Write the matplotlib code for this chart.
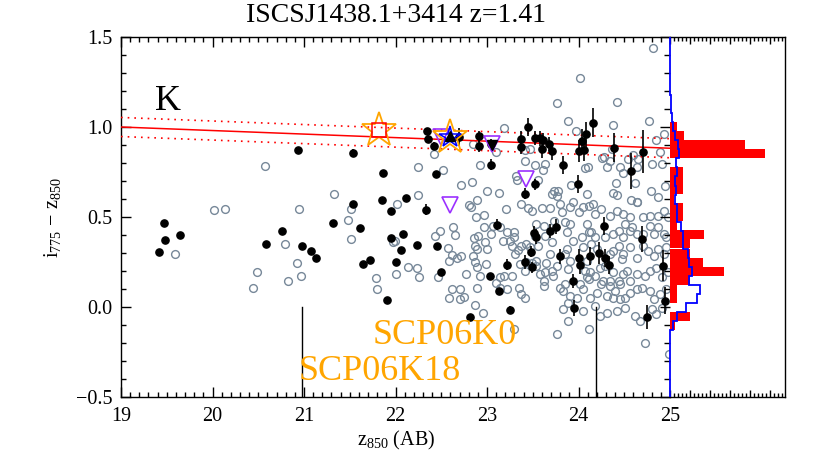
import numpy as np
import matplotlib
matplotlib.use('Agg')
import matplotlib.pyplot as plt
from matplotlib.ticker import MultipleLocator, NullFormatter

plt.rcParams['font.family'] = ['Liberation Serif', 'DejaVu Serif']
plt.rcParams['mathtext.fontset'] = 'custom'
plt.rcParams['mathtext.rm'] = 'Liberation Serif'
plt.rcParams['mathtext.it'] = 'Liberation Serif:italic'
plt.rcParams['mathtext.bf'] = 'Liberation Serif:bold'

# ---------------- data ----------------
title = "ISCSJ1438.1+3414 z=1.41"

gray_pts = [
    (20.57,0.785),(20.02,0.537),(20.14,0.547),(20.94,0.545),(21.33,0.630),(21.51,0.545),(21.48,0.486),
    (21.51,0.376),(22.02,0.575),(22.25,0.779),(22.25,0.625),(19.59,0.296),(20.79,0.350),(20.49,0.194),
    (20.44,0.106),(20.92,0.243),(20.97,0.175),(20.83,0.145),(21.79,0.162),(21.80,0.099),(21.97,0.363),
    (21.99,0.368),(22.01,0.184),(22.14,0.225),(22.23,0.216),(22.26,0.169),
    (22.42,0.848),(22.52,0.762),(22.92,0.787),(22.85,0.907),(23.10,0.861),(23.19,0.997),(23.47,0.880),
    (23.52,0.787),(23.42,0.870),(23.42,0.810),(22.72,0.675),(22.84,0.693),(23.00,0.642),(23.13,0.632),
    (23.32,0.725),(23.33,0.703),(22.89,0.597),(22.80,0.567),(22.83,0.554),(23.21,0.545),(23.37,0.573),
    (23.45,0.549),
    (24.81,1.437),(24.02,1.270),(23.77,1.134),(24.42,1.140),(23.89,1.032),(24.77,1.033),(23.97,0.976),
    (24.38,1.010),(24.37,0.880),(24.26,0.828),(24.34,0.809),(24.60,0.846),(24.65,0.824),(24.45,0.777),
    (24.54,0.820),(24.85,0.926),(24.89,0.861),(24.80,0.792),(24.91,0.792),(24.49,0.744),(24.64,0.777),
    (24.62,0.688),(24.41,0.688),(24.38,0.634),(24.42,0.625),(24.79,0.643),(24.87,0.610),(24.95,0.673),
    (24.57,0.595),(24.64,0.582),(23.92,0.675),(24.07,0.772),(24.10,0.777),(24.09,0.629),(23.63,0.796),
    (23.61,0.759),(23.56,0.703),(23.73,0.643),(23.78,0.647),(23.76,0.614),(23.94,0.582),(23.71,0.629),
    (24.31,0.777),(24.28,0.833),(24.93,0.959),
    (22.88,0.498),(22.97,0.512),(22.63,0.443),(22.65,0.400),(22.49,0.420),(22.43,0.396),(22.86,0.383),
    (22.87,0.341),(22.89,0.322),(23.00,0.322),(22.97,0.443),(23.04,0.406),(23.07,0.452),(23.17,0.365),
    (23.25,0.368),(23.29,0.415),(23.30,0.387),(23.34,0.316),(23.37,0.341),(23.43,0.350),(22.57,0.328),
    (22.62,0.290),(22.67,0.275),(22.72,0.285),(22.58,0.257),(22.85,0.285),(22.87,0.248),(22.89,0.220),
    (22.99,0.238),(22.92,0.173),(22.46,0.164),(22.77,0.186),(22.89,0.104),(22.62,0.099),(22.59,0.049),
    (22.71,0.044),(22.75,0.053),(22.87,0.012),(23.10,0.136),(23.14,0.164),(23.19,0.173),(23.14,0.108),
    (23.22,0.099),(23.35,0.104),(23.37,0.074),(23.42,0.049),(23.30,-0.124),(23.27,0.173),(22.96,-0.031),
    (22.70,0.099),(22.90,0.396),(23.14,0.443),(23.22,0.415),(22.98,0.359),(23.27,0.340),(23.31,0.294),
    (23.36,0.238),(23.41,0.201),(23.43,0.248),
    (23.49,0.535),(23.60,0.550),(23.69,0.550),(23.80,0.572),(23.82,0.526),(23.91,0.554),(24.00,0.526),
    (24.05,0.554),(24.11,0.563),(24.16,0.572),(24.18,0.517),(24.25,0.545),(24.34,0.507),(24.42,0.535),
    (24.49,0.517),(24.56,0.498),(24.64,0.582),(24.71,0.498),(24.78,0.507),(24.87,0.507),(24.93,0.535),
    (24.98,0.498),
    (23.54,0.461),(23.62,0.452),(23.53,0.396),(23.63,0.396),(23.73,0.480),(23.85,0.470),(23.91,0.461),
    (23.87,0.414),(24.09,0.461),(24.11,0.414),(24.14,0.414),(24.18,0.387),(24.29,0.387),(24.38,0.405),
    (24.44,0.424),(24.51,0.461),(24.56,0.424),(24.58,0.442),(24.64,0.405),(24.78,0.452),(24.82,0.405),
    (24.87,0.442),(24.93,0.405),(24.96,0.387),(24.49,0.387),(24.71,0.405),(24.04,0.387),(23.94,0.368),
    (23.47,0.331),(23.56,0.340),(23.69,0.294),(23.65,0.247),(23.71,0.359),(23.85,0.294),(23.87,0.322),
    (24.05,0.331),(24.14,0.349),(24.20,0.322),(24.38,0.312),(24.44,0.340),(24.49,0.294),(24.56,0.331),
    (24.64,0.275),(24.71,0.340),(24.76,0.312),(24.82,0.284),(24.87,0.322),(24.93,0.294),(24.96,0.331),
    (24.34,0.294),(24.47,0.266),(24.09,0.257),(23.91,0.257),
    (23.49,0.247),(23.54,0.229),(23.58,0.182),(23.63,0.192),(23.62,0.145),(23.71,0.201),(23.76,0.229),
    (23.89,0.210),(24.07,0.201),(24.09,0.164),(24.13,0.192),(24.18,0.173),(24.24,0.219),(24.29,0.229),
    (24.38,0.192),(24.44,0.145),(24.49,0.182),(24.53,0.201),(24.56,0.145),(24.64,0.182),(24.73,0.173),
    (24.78,0.201),(24.85,0.219),(24.91,0.164),(24.98,0.192),(24.11,0.154),(24.27,0.145),(24.34,0.145),
    (23.80,0.108),(23.83,0.089),(23.85,0.126),(24.02,0.126),(24.05,0.099),(24.20,0.080),(24.25,0.126),
    (24.34,0.117),(24.40,0.089),(24.45,0.126),(24.51,0.052),(24.56,0.080),(24.64,0.099),(24.69,0.108),
    (24.78,0.089),(24.82,0.043),(24.89,0.071),(24.96,0.099),(23.98,0.052),(24.13,0.052),(24.31,0.061),
    (24.38,0.052),(24.45,0.043),
    (23.83,-0.013),(23.89,-0.078),(24.05,-0.022),(24.18,0.006),(24.24,-0.050),(24.31,-0.031),(24.42,-0.022),
    (24.51,-0.004),(24.62,-0.050),(24.67,-0.078),(24.80,-0.013),(24.85,-0.041),(24.91,-0.004),(24.11,-0.124),
    (23.76,-0.152),(24.73,-0.199),(24.99,-0.260),
    (23.54,0.257),(23.72,0.173),(23.91,0.062),(23.89,0.025),(23.62,0.118),
]
gray_x = [p[0] for p in gray_pts]
gray_y = [p[1] for p in gray_pts]

# red-sequence candidates: (mag, colour, error)
black_pts = [
    (19.42,0.307,0.0),(19.47,0.467,0.0),(19.48,0.374,0.0),(19.65,0.402,0.0),(20.59,0.350,0.0),
    (20.76,0.424,0.0),(20.93,0.874,0.0),(20.98,0.337,0.0),(21.08,0.309,0.0),(21.13,0.272,0.0),
    (21.32,0.467,0.0),(21.54,0.855,0.02),(21.54,0.575,0.0),(21.61,0.437,0.0),(21.64,0.239,0.0),
    (21.72,0.261,0.0),(21.85,0.595,0.0),(21.86,0.747,0.0),(21.91,0.038,0.0),(21.95,0.534,0.0),
    (21.95,0.381,0.0),(22.01,0.251,0.0),(22.06,0.318,0.0),(22.08,0.404,0.0),(22.12,0.608,0.0),
    (22.23,0.344,0.0),(22.33,0.540,0.03),(22.34,0.976,0.02),(22.36,0.935,0.02),(22.42,0.894,0.02),
    (22.44,0.738,0.0),(22.45,0.341,0.0),(22.50,0.192,0.0),(22.69,0.944,0.05),(22.81,-0.053,0.0),
    (22.91,0.948,0.03),(22.91,0.892,0.03),(23.03,0.173,0.0),(23.04,0.904,0.03),(23.04,0.790,0.03),
    (23.11,0.458,0.03),(23.13,0.090,0.0),(23.22,0.235,0.03),(23.25,-0.016,0.02),(23.37,0.935,0.04),
    (23.37,0.888,0.04),(23.41,0.251,0.04),(23.42,0.629,0.03),(23.45,1.000,0.05),(23.48,0.307,0.03),
    (23.49,0.220,0.03),(23.51,0.410,0.04),(23.52,0.939,0.04),(23.52,0.682,0.03),(23.54,0.391,0.04),
    (23.58,0.937,0.04),(23.60,0.877,0.05),(23.61,0.926,0.04),(23.68,0.905,0.04),(23.69,0.422,0.04),
    (23.71,0.868,0.05),(23.75,0.447,0.04),(23.80,0.281,0.04),(23.83,0.790,0.05),(23.94,0.145,0.04),
    (23.95,-0.007,0.045),(23.99,0.684,0.05),(24.00,0.868,0.06),(24.00,0.272,0.05),(24.02,0.233,0.05),
    (24.04,0.920,0.07),(24.06,0.870,0.06),(24.08,0.960,0.07),(24.13,0.281,0.05),(24.16,1.023,0.08),
    (24.22,0.300,0.06),(24.28,0.448,0.05),(24.29,0.272,0.05),(24.33,0.233,0.05),(24.39,0.886,0.08),
    (24.57,0.754,0.10),(24.69,0.378,0.07),(24.70,0.863,0.12),(24.75,-0.055,0.065),(24.92,0.229,0.085),
    (24.94,0.034,0.075),
]
black_x = [p[0] for p in black_pts]
black_y = [p[1] for p in black_pts]
black_e = [p[2] for p in black_pts]

# SN hosts (orange stars), spectroscopic members (purple open triangles)
star_x = [21.82, 22.60]
star_y = [0.985, 0.945]
square_x = [21.82]
square_y = [0.983]
blue_star_x = [22.60]
blue_star_y = [0.945]
black_tri_up_x = [22.60]
black_tri_up_y = [0.950]
black_tri_dn_x = [23.05]
black_tri_dn_y = [0.900]
purple_x = [22.50, 23.05, 23.43, 22.60]
purple_y = [0.944, 0.907, 0.712, 0.564]

# red-sequence fit
rs_x = [19.0, 25.0]
rs_y = [1.000, 0.882]
rs_scatter = 0.053

# SN markers
sn_line_x = [20.98, 24.19]
sn_labels = ["SCP06K18", "SCP06K0"]
sn_label_x = [20.945, 21.754]
sn_label_y = [-0.408, -0.206]

# colour histograms (bin centres, width 0.05)
hist_centers = [-0.10, -0.05, 0.00, 0.05, 0.10, 0.15, 0.20, 0.25, 0.30, 0.35, 0.40, 0.45, 0.50,
                0.55, 0.60, 0.65, 0.70, 0.75, 0.80, 0.85, 0.90, 0.95, 1.00, 1.05, 1.10, 1.15, 1.20]
red_counts = [0.7, 3.0, 0.0, 1.0, 1.0, 3.0, 8.1, 5.0, 3.0, 3.0, 5.1, 1.0, 2.0,
              2.0, 0.6, 2.0, 2.0, 2.0, 0.0, 14.25, 11.25, 2.1, 1.0, 0.0, 0.0, 0.0, 0.0]
blue_counts = [0.5, 1.0, 2.4, 4.1, 4.5, 2.9, 3.25, 2.9, 2.75, 1.9, 1.9, 1.6, 1.0,
               1.0, 0.75, 0.9, 0.75, 1.1, 0.9, 1.4, 1.25, 0.75, 0.4, 0.25, 0.15, 0.1, 0.05]
bin_w = 0.05

# ---------------- layout ----------------
W, H = 830, 467
L, R, T, B = 121, 785, 37, 397
XS = 670
fig = plt.figure(figsize=(W / 100, H / 100), dpi=100)
ax = fig.add_axes([L / W, 1 - B / H, (XS - L) / W, (B - T) / H])
ax2 = fig.add_axes([XS / W, 1 - B / H, (R - XS) / W, (B - T) / H])

gray_c = '#778899'
orange = '#ffa500'
purple = '#9b30ff'

ax.plot(gray_x, gray_y, 'o', mfc='none', mec=gray_c, ms=5.6, mew=1.0, zorder=2)

xx = np.array(rs_x)
yy = np.array(rs_y)
ax.plot(xx, yy, '-', color='red', lw=1.1, zorder=3)
ax.plot(xx, yy + rs_scatter, color='red', lw=1.2, ls=(0, (1, 3)), zorder=3)
ax.plot(xx, yy - rs_scatter, color='red', lw=1.2, ls=(0, (1, 3)), zorder=3)

ax.errorbar(black_x, black_y, yerr=black_e, fmt='o', color='k', ms=5.2, elinewidth=1.2,
            capsize=0, zorder=4)

for x in sn_line_x:
    ax.plot([x, x], [-0.5, 0.0], color='k', lw=1.0, zorder=3)
for lab, x, y in zip(sn_labels, sn_label_x, sn_label_y):
    ax.text(x, y, lab, color=orange, fontsize=26, ha='left', va='baseline', zorder=6)

ax.plot(purple_x, purple_y, 'v', mfc='none', mec=purple, ms=12, mew=1.2, zorder=5)
ax.plot(black_tri_dn_x, black_tri_dn_y, 'v', color='k', ms=7, zorder=5)
ax.plot(star_x, star_y, '*', mfc='none', mec=orange, ms=26, mew=1.3, zorder=6)
ax.plot(square_x, square_y, 's', mfc='none', mec='red', ms=10, mew=1.1, zorder=6)
ax.plot(blue_star_x, blue_star_y, '*', mfc='none', mec='blue', ms=16, mew=1.1, zorder=6)
ax.plot(black_tri_up_x, black_tri_up_y, '^', color='k', ms=7, zorder=6)

ax.text(19.37, 1.093, 'K', fontsize=26, ha='left', va='baseline')

ax.set_xlim(19, 25)
ax.set_ylim(-0.5, 1.5)
ax.spines['right'].set_visible(False)
for s in ['left', 'top', 'bottom']:
    ax.spines[s].set_linewidth(1.0)
ax.xaxis.set_major_locator(MultipleLocator(1))
ax.xaxis.set_minor_locator(MultipleLocator(0.1))
ax.yaxis.set_major_locator(MultipleLocator(0.5))
ax.yaxis.set_minor_locator(MultipleLocator(0.1))
ax.tick_params(which='both', direction='in', top=True, bottom=True, left=True, right=False,
               width=1.0, labelsize=14.5)
ax.tick_params(which='major', length=7.2)
ax.tick_params(which='minor', length=3.6)
ax.tick_params(axis='x', pad=7)
ax.tick_params(axis='y', pad=6)

# histogram panel
ax2.barh(hist_centers, red_counts, height=bin_w, color='red', edgecolor='none', zorder=2)
edges = [c - bin_w / 2 for c in hist_centers] + [hist_centers[-1] + bin_w / 2]
full_edges = [-0.5] + edges + [1.5]
full_vals = [0.0] + list(blue_counts) + [0.0]
ax2.stairs(full_vals, full_edges, orientation='horizontal', baseline=None, color='blue',
           lw=1.3, zorder=3, clip_on=False)
ax2.set_ylim(-0.5, 1.5)
ax2.set_xlim(0, (R - XS) / 6.67)
ax2.spines['left'].set_visible(False)
for s in ['right', 'top', 'bottom']:
    ax2.spines[s].set_linewidth(1.0)
ax2.xaxis.set_major_locator(MultipleLocator(3))
ax2.xaxis.set_minor_locator(MultipleLocator(0.6))
ax2.yaxis.set_major_locator(MultipleLocator(0.5))
ax2.yaxis.set_minor_locator(MultipleLocator(0.1))
ax2.tick_params(axis='x', which='both', direction='in', top=True, bottom=True,
                labelbottom=False, labeltop=False, width=1.0)
ax2.tick_params(axis='x', which='major', length=5)
ax2.tick_params(axis='x', which='minor', length=2.6)
ax2.tick_params(axis='y', which='both', direction='out', left=True, right=False,
                labelleft=False, width=1.0)
ax2.tick_params(axis='y', which='major', length=7.2)
ax2.tick_params(axis='y', which='minor', length=4.0)

fig.text(395.5 / W, 1 - 16 / H, title, fontsize=20, ha='center', va='center')
fig.text(396 / W, 1 - 440 / H, r'$\mathrm{z_{850}}$ (AB)', fontsize=14.5, ha='center', va='center')
fig.text(52 / W, 1 - 217 / H, r'$\mathrm{i_{775}}\,-\,\mathrm{z_{850}}$', fontsize=14.5,
         rotation=90, ha='center', va='center')

fig.savefig('out.png', dpi=100)
